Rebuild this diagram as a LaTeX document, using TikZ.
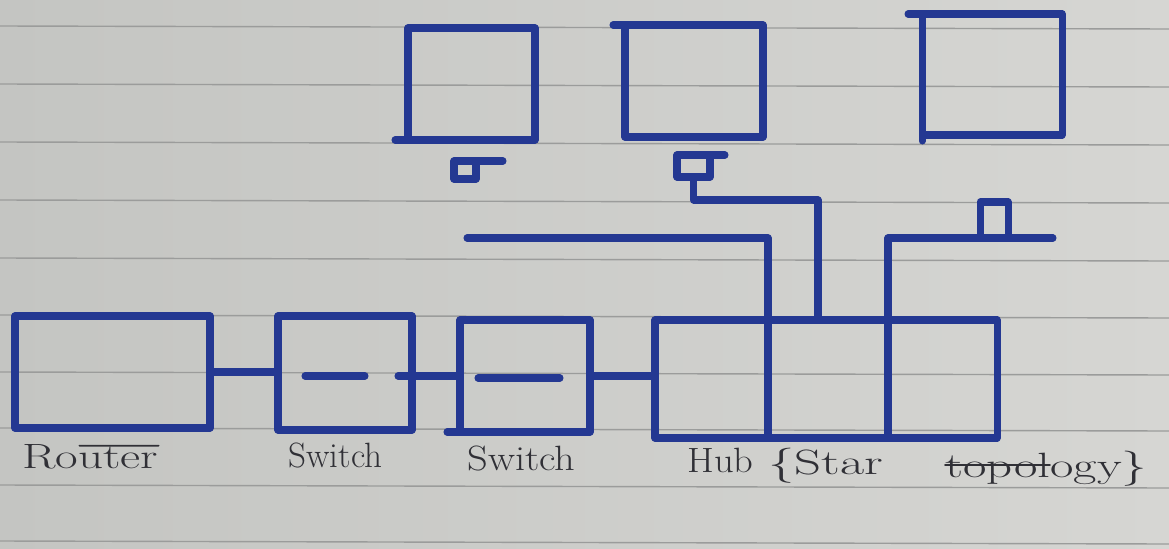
\documentclass[tikz,border=0pt]{standalone}
\usetikzlibrary{calc}
\definecolor{ink}{RGB}{36,56,146}
\definecolor{paperL}{RGB}{196,197,194}
\definecolor{paperR}{RGB}{214,214,211}
\definecolor{rulec}{RGB}{155,156,155}
\definecolor{pen}{RGB}{48,48,54}
\newcommand\pxu{0.02cm}
\newcommand\hw[2]{\scalebox{#1}[1]{#2}}
\begin{document}
\begin{tikzpicture}[x=0.02cm,y=-0.02cm,
  ink line/.style={draw=ink,line width=4pt,line cap=round,line join=round},
  dev/.style={ink line,rectangle,inner sep=0pt,outer sep=0pt},
  ruling/.style={draw=rulec,line width=0.8pt},
  hand/.style={text=pen,font=\fontsize{20}{24}\selectfont,inner sep=0pt,anchor=base west},
  strike/.style={draw=pen,line width=1pt,line cap=round}]
% paper
\shade[left color=paperL,right color=paperR] (0,0) rectangle (1169,548);
\useasboundingbox (0,0) rectangle (1169,548);
\foreach \yy in {26,84,142,200,258,315,372,428,485,541}
  \draw[ruling] (0,\yy) -- (1169,\yy+3);
% bottom devices
\node[dev,minimum width={195*\pxu},minimum height={112*\pxu}] (router) at (112.5,372) {};
\node[dev,minimum width={134*\pxu},minimum height={114*\pxu}] (sw1) at (345,373) {};
\node[dev,minimum width={130*\pxu},minimum height={112*\pxu}] (sw2) at (525,376) {};
\node[dev,minimum width={342*\pxu},minimum height={118*\pxu}] (hub) at (826,379) {};
% computers
\node[dev,minimum width={127*\pxu},minimum height={112*\pxu}] (pc1) at (471.5,84) {};
\node[dev,minimum width={138*\pxu},minimum height={112*\pxu}] (pc2) at (694,81) {};
\node[dev,minimum width={140*\pxu},minimum height={121*\pxu}] (pc3) at (992,74.5) {};
% small boxes under computers
\node[dev,minimum width={22*\pxu},minimum height={18*\pxu}] (kb1) at (465,170) {};
\node[dev,minimum width={33*\pxu},minimum height={22*\pxu}] (kb2) at (693.5,166) {};
\node[dev,minimum width={28*\pxu},minimum height={36*\pxu}] (kb3) at (994,220) {};
% tails
\draw[ink line] (pc1.south west) -- ++(-13,0);
\draw[ink line] (pc2.north west) -- ++(-12,0);
\draw[ink line] (pc3.north west) -- ++(-14,0);
\draw[ink line] (pc3.south west) -- ++(0,6);
\draw[ink line] (sw2.south west) -- ++(-13,0);
\draw[ink line] (kb1.north east) -- ++(27,0);
\draw[ink line] (kb2.north east) -- ++(15,0);
% chain router - switch - switch - hub
\draw[ink line] (router.east) -- (router.east -| sw1.west);
\draw[ink line] ($(sw1.west)+(27,3)$) -- ($(sw1.west)+(87,3)$);
\draw[ink line] ($(sw1.east)+(-14,3)$) -- (sw1.east |- sw2.west) -- (sw2.west);
\draw[ink line] ($(sw2.west)+(18,2)$) -- ($(sw2.west)+(100,2)$);
\draw[ink line] (sw2.east) -- (sw2.east -| hub.west);
% hub dividers and links
\coordinate (busL) at (467,238);
\coordinate (c1) at (768,238);
\coordinate (c2) at (888,238);
\coordinate (busR) at (1053,238);
\coordinate (b2) at (818,200);
\draw[ink line] (busL) -- (c1) -- (c1 |- hub.south);
\draw[ink line] (c2 |- hub.south) -- (c2) -- (busR);
\draw[ink line] (kb2.south) |- (b2) -- (b2 |- hub.north);
% labels
\node[hand] (rtl) at (22,468) {\hw{1.4}{Router}};
\node[hand] (s1l) at (288,467) {Switch};
\node[hand] (s2l) at (467,470) {\hw{1.15}{Switch}};
\node[hand] (hbl) at (687,472) {\hw{1.1}{Hub}};
\node[hand] (stl) at (768,474) {\hw{1.5}{\{Star}};
\node[hand] (tpl) at (945,477) {\hw{1.45}{topology\}}};
\draw[strike] ($(rtl.north west)!0.42!(rtl.north east)+(0,2)$) -- ($(rtl.north east)+(0,2)$);
\draw[strike] ($(tpl.base west)+(0,-12)$) -- ($(tpl.base west)+(105,-12)$);
\end{tikzpicture}
\end{document}
